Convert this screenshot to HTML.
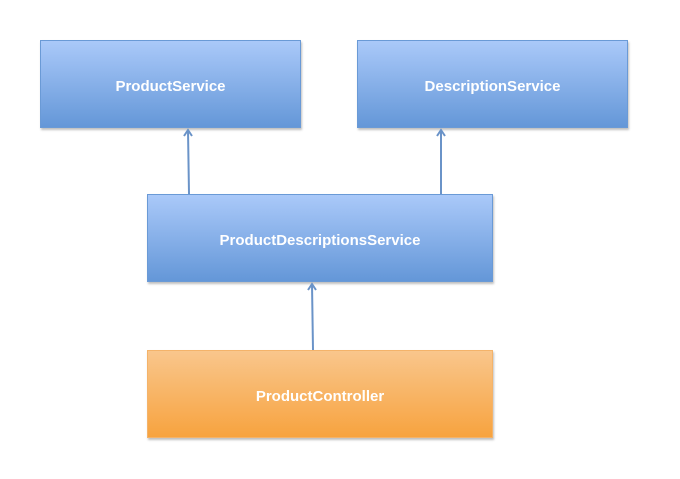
<!DOCTYPE html>
<html><head><style>
html,body{margin:0;padding:0;background:#fff;}
body{width:680px;height:479px;position:relative;overflow:hidden;font-family:"Liberation Sans",sans-serif;}
.b{position:absolute;box-sizing:border-box;display:flex;align-items:center;justify-content:center;color:#fff;font-size:15px;font-weight:bold;box-shadow:1px 2px 2px rgba(0,0,0,0.25);padding-top:5px;}
.blue{background:linear-gradient(#aac9f9,#6497d8);border:1px solid #6a9ad6;}
.or{background:linear-gradient(#f9c68c,#f7a33f);border:1px solid #f4b36a;}
</style></head><body>
<div class="b blue" style="left:40px;top:40px;width:261px;height:88px;">ProductService</div>
<div class="b blue" style="left:357px;top:40px;width:271px;height:88px;">DescriptionService</div>
<div class="b blue" style="left:147px;top:194px;width:346px;height:88px;">ProductDescriptionsService</div>
<div class="b or" style="left:147px;top:350px;width:346px;height:88px;">ProductController</div>
<svg width="680" height="479" style="position:absolute;left:0;top:0" fill="none" stroke="#6a93c8" stroke-width="2">
<line x1="189" y1="194" x2="188" y2="130"/><polyline points="184,136 188,130 192,136"/>
<line x1="441" y1="194" x2="441" y2="130"/><polyline points="437,136 441,130 445,136"/>
<line x1="313" y1="350" x2="312" y2="284"/><polyline points="308,290 312,284 316,290"/>
</svg>
</body></html>
